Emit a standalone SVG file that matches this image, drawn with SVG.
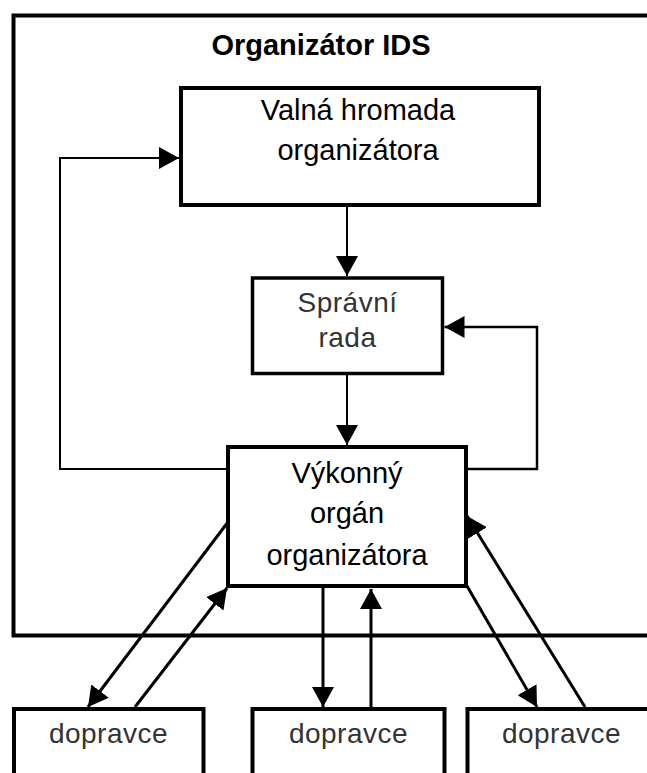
<svg xmlns="http://www.w3.org/2000/svg" width="647" height="773" viewBox="0 0 647 773">
<style>
.box{fill:#fff;stroke:#000;stroke-width:4}
.frame{fill:none;stroke:#000;stroke-width:4}
.t{font-family:"Liberation Sans",Arial,sans-serif;font-size:29px;fill:#000;text-anchor:middle}
.tb{font-family:"Liberation Sans",Arial,sans-serif;font-size:29px;font-weight:bold;fill:#000;text-anchor:middle}
.g{font-family:"Liberation Sans",Arial,sans-serif;font-size:28px;fill:#333;text-anchor:middle;letter-spacing:0.5px}
.c{fill:none;stroke:#000;stroke-width:2.5}
.thin{stroke-width:2}
.thick{stroke-width:3}
</style>
<defs>
<marker id="ah" markerUnits="userSpaceOnUse" markerWidth="20" markerHeight="22" refX="20" refY="11" orient="auto">
<path d="M0,0 L20,11 L0,22 z" fill="#000"/>
</marker>
</defs>
<rect width="647" height="773" fill="#fff"/>
<g id="organizator">
<rect class="frame" x="13.5" y="15.5" width="700" height="620"/>
<text class="tb" x="321" y="55">Organizátor IDS</text>
</g>
<g id="connectors">
<path class="c thin" d="M226,469 H60 V158 H179" marker-end="url(#ah)"/>
<path class="c" d="M468,469 H537 V327 H444.5" marker-end="url(#ah)"/>
<path class="c thin" d="M347,207 V276" marker-end="url(#ah)"/>
<path class="c thin" d="M347,375 V445" marker-end="url(#ah)"/>
<path class="c thick" d="M323,588 V707" marker-end="url(#ah)"/>
<path class="c thick" d="M371,707 V589" marker-end="url(#ah)"/>
<path class="c thick" d="M228,522 L88,707" marker-end="url(#ah)"/>
<path class="c thick" d="M135,707 L227,588" marker-end="url(#ah)"/>
<path class="c thick" d="M467,586 L537,707" marker-end="url(#ah)"/>
<path class="c thick" d="M585,707 L467,516" marker-end="url(#ah)"/>
</g>
<g id="valna">
<rect class="box" x="181" y="88" width="358" height="117"/>
<text class="t" x="358" y="120">Valná hromada</text>
<text class="t" x="358" y="160">organizátora</text>
</g>
<g id="spravni">
<rect class="box" style="stroke-width:3.5" x="252.5" y="278" width="190" height="95.5"/>
<text class="g" x="347.5" y="312">Správní</text>
<text class="g" x="347.5" y="347">rada</text>
</g>
<g id="vykonny">
<rect class="box" x="228" y="447" width="238" height="139"/>
<text class="t" x="347" y="483">Výkonný</text>
<text class="t" x="347" y="523">orgán</text>
<text class="t" x="347" y="565">organizátora</text>
</g>
<g id="dopravce1">
<rect class="box" x="14" y="709" width="189.5" height="100"/>
<text class="g" x="108.5" y="743">dopravce</text>
</g>
<g id="dopravce2">
<rect class="box" x="252.5" y="709" width="192" height="100"/>
<text class="g" x="348.5" y="743">dopravce</text>
</g>
<g id="dopravce3">
<rect class="box" x="467.5" y="709" width="188" height="100"/>
<text class="g" x="561.5" y="743">dopravce</text>
</g>
</svg>
